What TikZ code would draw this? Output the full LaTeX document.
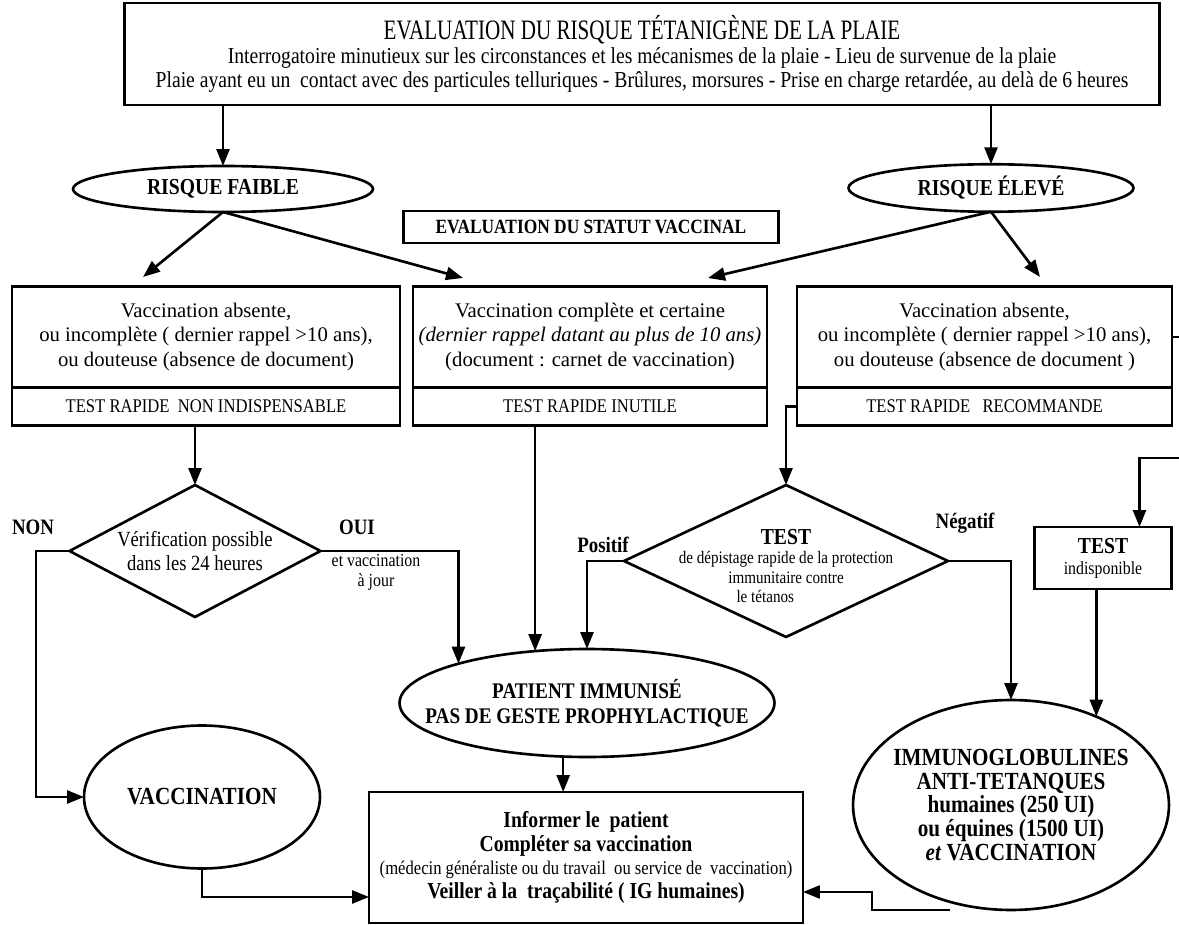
\documentclass[tikz,border=0pt]{standalone}
\usepackage{fontspec}
\setmainfont{Liberation Serif}
\newfontfamily\narrowfont{Liberation Serif}[FakeStretch=0.86]
\newfontfamily\titlefont{Liberation Serif}[FakeStretch=0.75]
\usetikzlibrary{shapes.geometric,arrows.meta,positioning}

\begin{document}
\begin{tikzpicture}[x=0.02cm,y=-0.02cm,line width=1.5pt,
  arr/.style={-{Triangle[length=0.34cm,width=0.26cm]}},
  bx/.style={draw,rectangle,inner sep=1pt,outer sep=0pt,align=center,font=\fontsize{11.8}{14}\selectfont},
  testbx/.style={bx,font=\narrowfont\fontsize{11}{13}\selectfont},
  ov/.style={draw,ellipse,inner sep=0pt,outer sep=0pt,align=center,font=\narrowfont\bfseries\fontsize{13}{15}\selectfont},
  dmd/.style={draw,diamond,inner sep=0pt,outer sep=0pt},
  lbl/.style={font=\narrowfont\bfseries\fontsize{12.5}{14}\selectfont}]
\useasboundingbox (0,0) rectangle (1179,925);

%%Top box
\node[bx,minimum width=20.7cm,minimum height=2.04cm,font=\narrowfont\fontsize{13}{13.6}\selectfont] (risk) at (642,54)
  {{\titlefont\fontsize{16}{16}\selectfont EVALUATION DU RISQUE TÉTANIGÈNE DE LA PLAIE}\\
   Interrogatoire minutieux sur les circonstances et les mécanismes de la plaie - Lieu de survenue de la plaie\\
   Plaie ayant eu un\ \ contact avec des particules telluriques - Brûlures, morsures - Prise en charge retardée, au delà de 6 heures};

%%Risk level
\node[ov,minimum width=6cm,minimum height=0.92cm] (faible) at (223,189) {RISQUE FAIBLE};
\node[ov,minimum width=5.7cm,minimum height=0.95cm] (eleve) at (991,188) {RISQUE ÉLEVÉ};
\node[bx,minimum width=7.5cm,minimum height=0.64cm,font=\narrowfont\bfseries\fontsize{11.5}{13}\selectfont] (statut) at (591,227) {EVALUATION DU STATUT VACCINAL};

%%Vaccination status boxes
\node[bx,minimum width=7.76cm,minimum height=2.02cm] (leftA) at (206,337)
  {Vaccination absente,\\ ou incomplète ( dernier rappel >10 ans),\\ ou douteuse (absence de document)};
\node[testbx,minimum width=7.76cm,minimum height=0.76cm,below=0pt of leftA] (leftB) {TEST RAPIDE\ \ NON INDISPENSABLE};
\node[bx,minimum width=7.08cm,minimum height=2.02cm] (midA) at (590,337)
  {Vaccination complète et certaine\\ \textit{(dernier rappel datant au plus de 10 ans)}\\ (document : carnet de vaccination)};
\node[testbx,minimum width=7.08cm,minimum height=0.76cm,below=0pt of midA] (midB) {TEST RAPIDE INUTILE};
\node[bx,minimum width=7.5cm,minimum height=2.02cm] (rightA) at (984.5,337)
  {Vaccination absente,\\ ou incomplète ( dernier rappel >10 ans),\\ ou douteuse (absence de document )};
\node[testbx,minimum width=7.5cm,minimum height=0.76cm,below=0pt of rightA] (rightB) {TEST RAPIDE\ \ \ RECOMMANDE};

%%Decisions
\node[dmd,minimum width=5.02cm,minimum height=2.64cm] (verif) at (195,551) {};
\node[align=center,font=\narrowfont\fontsize{12.3}{13.5}\selectfont] (veriftxt) at (195,551) {Vérification possible\\dans les 24 heures};
\node[dmd,minimum width=6.48cm,minimum height=3.04cm] (test) at (786,561) {};
\node[align=center,font=\narrowfont\fontsize{10}{11}\selectfont] (testtxt) at (786,566)
  {{\bfseries\fontsize{13}{14}\selectfont TEST}\\ de dépistage rapide de la protection\\ immunitaire contre\\ le tétanos\phantom{ contre}};
\node[bx,minimum width=2.74cm,minimum height=1.24cm,font=\narrowfont\fontsize{10.5}{12}\selectfont] (tind) at (1103,558)
  {{\bfseries\fontsize{13}{15}\selectfont TEST}\\ indisponible};

%%Outcomes
\node[ov,minimum width=7.5cm,minimum height=2.16cm,inner xsep=-0.6cm,font=\narrowfont\bfseries\fontsize{12.7}{14}\selectfont] (patient) at (587,703)
  {PATIENT IMMUNISÉ\\ PAS DE GESTE PROPHYLACTIQUE};
\node[ov,minimum width=4.72cm,minimum height=2.86cm,font=\narrowfont\bfseries\fontsize{14}{16}\selectfont] (vacc) at (202,797) {VACCINATION};
\node[ov,minimum width=6.32cm,minimum height=4.2cm,inner xsep=-0.35cm,font=\narrowfont\bfseries\fontsize{14}{13.6}\selectfont] (immuno) at (1011,805)
  {IMMUNOGLOBULINES\\ ANTI-TETANQUES\\ humaines (250 UI)\\ ou équines (1500 UI)\\ \textit{et} VACCINATION};
\node[bx,minimum width=8.68cm,minimum height=2.62cm,font=\narrowfont\bfseries\fontsize{13}{13.5}\selectfont] (info) at (586,857.5)
  {Informer le\ \ patient\\ Compléter sa vaccination\\ {\mdseries\fontsize{11}{12.5}\selectfont (médecin généraliste ou du travail\ \ ou service de\ \ vaccination)}\\ Veiller à la\ \ traçabilité ( IG humaines)};

%%Labels
\node[lbl] (non) at (33,527) {NON};
\node[lbl] (oui) at (357,527) {OUI};
\node[align=center,font=\narrowfont\fontsize{10.5}{11.5}\selectfont] (ajour) at (376,572) {et vaccination\\ à jour};
\node[lbl] (pos) at (603,545) {Positif};
\node[lbl] (neg) at (965,523) {Négatif};

%%Free ends
\coordinate (tipLL) at (143,277);
\coordinate (tipLM) at (463,278);
\coordinate (tipRM) at (708,278);
\coordinate (tipRR) at (1040,277);
\coordinate (nonL) at (36,551);
\coordinate (offR) at (1195,458);

%%Connectors
\draw[arr] (risk.south -| faible) -- (faible.north);
\draw[arr] (risk.south -| eleve) -- (eleve.north);
\draw[arr] (faible.south) -- (tipLL);
\draw[arr] (faible.south) -- (tipLM);
\draw[arr] (eleve.south) -- (tipRM);
\draw[arr] (eleve.south) -- (tipRR);
\draw[arr] (leftB.south -| verif.north) -- (verif.north);
\draw[arr] (verif.east) -| (patient.163); %%OUI
\draw[arr] (verif.west) -- (nonL) |- (vacc.west); %%NON
\draw[arr] (midB.south -| patient.135) -- (patient.135);
\draw[arr] (test.west) -| (patient.north); %%Positif
\draw[arr] (rightB.west) -| (test.north);
\draw[arr] (test.east) -| (immuno.north); %%Negatif
\draw[arr] (rightA.east) -| (offR) -| ([xshift=-0.64cm]tind.north east);
\draw[arr] (tind.south -| immuno.46) -- (immuno.46);
\draw[arr] (patient.246) -- (patient.246 |- info.north);
\draw[arr] (vacc.south) |- ([yshift=-0.79cm]info.west);
\draw[arr] ([xshift=-1.22cm]immuno.south) -- ++(-78,0) |- ([yshift=-0.69cm]info.east);
\end{tikzpicture}
\end{document}
